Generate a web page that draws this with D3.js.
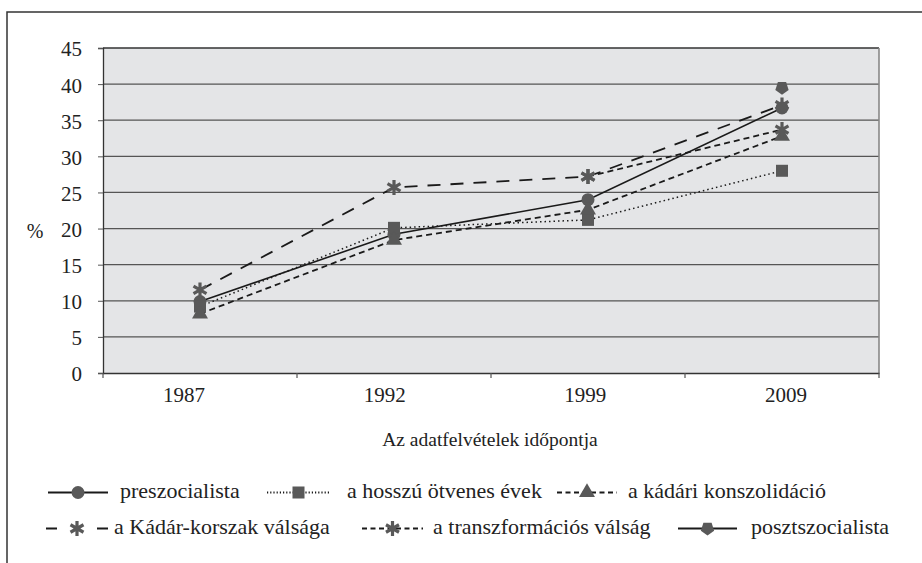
<!DOCTYPE html>
<html><head><meta charset="utf-8">
<script src="https://cdn.jsdelivr.net/npm/d3@7"></script>
<style>body{margin:0;background:#fff}svg{display:block}</style>
</head><body>
<script>
const years = ["1987","1992","1999","2009"];
const yTicks = [0,5,10,15,20,25,30,35,40,45];
const preszocialista = [9.9, 19.2, 24.0, 36.7];
const hosszuOtvenes = [9.2, 20.1, 21.2, 28.0];
const kadariKonszolidacio = [8.2, 18.4, 22.6, 32.8];
const kadarKorszakValsaga = [11.5, 25.7, 27.2, 37.1];
const transzformaciosValsaga = [null, null, 27.2, 33.7];
const posztszocialista = [null, null, null, 39.5];
const seriesNames = ["preszocialista","a hosszú ötvenes évek","a kádári konszolidáció","a Kádár-korszak válsága","a transzformációs válság","posztszocialista"];

const W = 922, H = 563;
const svg = d3.select("body").append("svg").attr("width", W).attr("height", H);
const font = "'Liberation Serif','Times New Roman','DejaVu Serif',serif";
svg.append("rect").attr("x",7).attr("y",12).attr("width",930).attr("height",570)
  .attr("fill","#fff").attr("stroke","#333").attr("stroke-width",1.5);

const L = 103, R = 879, T = 48, B = 373;
const x = d3.scaleBand().domain(years).range([L, R]);
const xLabel = d3.scalePoint().domain(years).range([184, 786]);
const y = d3.scaleLinear().domain([0,45]).range([B, T]);

svg.append("rect").attr("x",L).attr("y",T).attr("width",R-L).attr("height",B-T).attr("fill","#e4e5e7");
svg.append("g").selectAll("line").data(yTicks.filter(d=>d>0)).join("line")
  .attr("x1",L).attr("x2",R).attr("y1",d=>y(d)).attr("y2",d=>y(d))
  .attr("stroke",d=>d===45?"#333":"#555").attr("stroke-width",d=>d===45?1.6:1.2);
svg.append("line").attr("x1",R).attr("x2",R).attr("y1",T).attr("y2",B).attr("stroke","#888").attr("stroke-width",1.6);

// y axis
const yAxis = svg.append("g").attr("transform",`translate(${L},0)`)
  .call(d3.axisLeft(y).tickValues(yTicks).tickSize(5).tickPadding(16));
yAxis.attr("font-family",font).attr("font-size",21);
yAxis.select(".domain").attr("stroke","#333").attr("stroke-width",1.3);
yAxis.selectAll(".tick line").attr("stroke","#555");
yAxis.selectAll("text").attr("fill","#222").attr("dy","0.38em");

// x axis
const xAxis = svg.append("g").attr("transform",`translate(0,${B})`)
  .call(d3.axisBottom(x).tickSize(0).tickFormat(""));
xAxis.select(".domain").attr("stroke","#333").attr("stroke-width",1.5);
svg.append("g").selectAll("line").data(years.concat(["end"])).join("line")
  .attr("x1",d=>d==="end"?R:x(d)).attr("x2",d=>d==="end"?R:x(d))
  .attr("y1",B).attr("y2",B+5).attr("stroke","#555").attr("stroke-width",1.2);
svg.append("g").selectAll("text").data(years).join("text")
  .attr("x",d=>xLabel(d)).attr("y",402).attr("text-anchor","middle")
  .attr("font-family",font).attr("font-size",21).attr("fill","#222").text(d=>d);

svg.append("text").attr("x",490).attr("y",446).attr("text-anchor","middle")
  .attr("font-family",font).attr("font-size",19.5).attr("fill","#222").text("Az adatfelvételek időpontja");
svg.append("text").attr("x",35).attr("y",238).attr("text-anchor","middle")
  .attr("font-family",font).attr("font-size",20).attr("fill","#222").text("%");

const mcol = "#595959";
function pentagon(){ const r=7; let p=[]; for(let i=0;i<5;i++){const a=Math.PI/2+i*2*Math.PI/5; p.push([r*Math.cos(a), r*Math.sin(a)]);} return "M"+p.map(q=>q.join(",")).join("L")+"Z"; }
function asterisk(){ const r=7.5; let s=""; for(let i=0;i<3;i++){const a=i*Math.PI/3+Math.PI/2; s+=`M${r*Math.cos(a)},${r*Math.sin(a)}L${-r*Math.cos(a)},${-r*Math.sin(a)}`;} return s; }
const markerDefs = {
  circle: g=>g.append("circle").attr("r",6.5).attr("fill",mcol),
  square: g=>g.append("rect").attr("x",-6).attr("y",-6).attr("width",12).attr("height",12).attr("fill",mcol),
  triangle: g=>g.append("path").attr("d",d3.symbol(d3.symbolTriangle,110)()).attr("fill",mcol),
  asterisk: g=>g.append("path").attr("d",asterisk()).attr("stroke",mcol).attr("stroke-width",3.2).attr("fill","none"),
  pentagon: g=>g.append("path").attr("d",pentagon()).attr("fill",mcol)
};
const series = [
  {name:seriesNames[0], vals:preszocialista, dash:null, w:1.6, marker:"circle", ldash:null},
  {name:seriesNames[1], vals:hosszuOtvenes, dash:"1.5,3", w:1.5, marker:"square", ldash:"1.2,2"},
  {name:seriesNames[2], vals:kadariKonszolidacio, dash:"6,4", w:1.8, marker:"triangle", ldash:"5,3.5"},
  {name:seriesNames[3], vals:kadarKorszakValsaga, dash:"13,10", w:1.8, marker:"asterisk", ldash:"11,40"},
  {name:seriesNames[4], vals:transzformaciosValsaga, dash:"6,4", w:1.8, marker:"asterisk", ldash:"5,3.5"},
  {name:seriesNames[5], vals:posztszocialista, dash:null, w:1.6, marker:"pentagon", ldash:null}
];
const cx = d => x(d) + x.bandwidth()/2;
const line = d3.line().defined(d=>d.v!=null).x(d=>cx(d.year)).y(d=>y(d.v));
series.forEach(s=>{
  const pts = years.map((yr,i)=>({year:yr, v:s.vals[i]}));
  svg.append("path").datum(pts).attr("d",line).attr("fill","none").attr("stroke","#1a1a1a")
    .attr("stroke-width",s.w).attr("stroke-dasharray",s.dash);
});
series.forEach(s=>{
  years.forEach((yr,i)=>{ if(s.vals[i]==null) return;
    const g = svg.append("g").attr("transform",`translate(${cx(yr)},${y(s.vals[i])})`);
    markerDefs[s.marker](g);
  });
});

// legend
const legendPos = [
  {x1:48,x2:108,tx:120,ty:498},{x1:267,x2:330,tx:347,ty:498},{x1:557,x2:617,tx:628,ty:498},
  {x1:46,x2:108,tx:114,ty:534},{x1:362,x2:423,tx:433,ty:534},{x1:678,x2:737,tx:751,ty:534}
];
series.forEach((s,i)=>{
  const p = legendPos[i]; const ly = p.ty - 5.5;
  svg.append("line").attr("x1",p.x1).attr("x2",p.x2).attr("y1",ly).attr("y2",ly)
    .attr("stroke","#1a1a1a").attr("stroke-width",s.w+0.4).attr("stroke-dasharray",s.ldash);
  const g = svg.append("g").attr("transform",`translate(${(p.x1+p.x2)/2},${ly})`);
  markerDefs[s.marker](g);
  svg.append("text").attr("x",p.tx).attr("y",p.ty).attr("font-family",font).attr("font-size",22)
    .attr("fill","#222").text(s.name);
});
</script>
</body></html>
